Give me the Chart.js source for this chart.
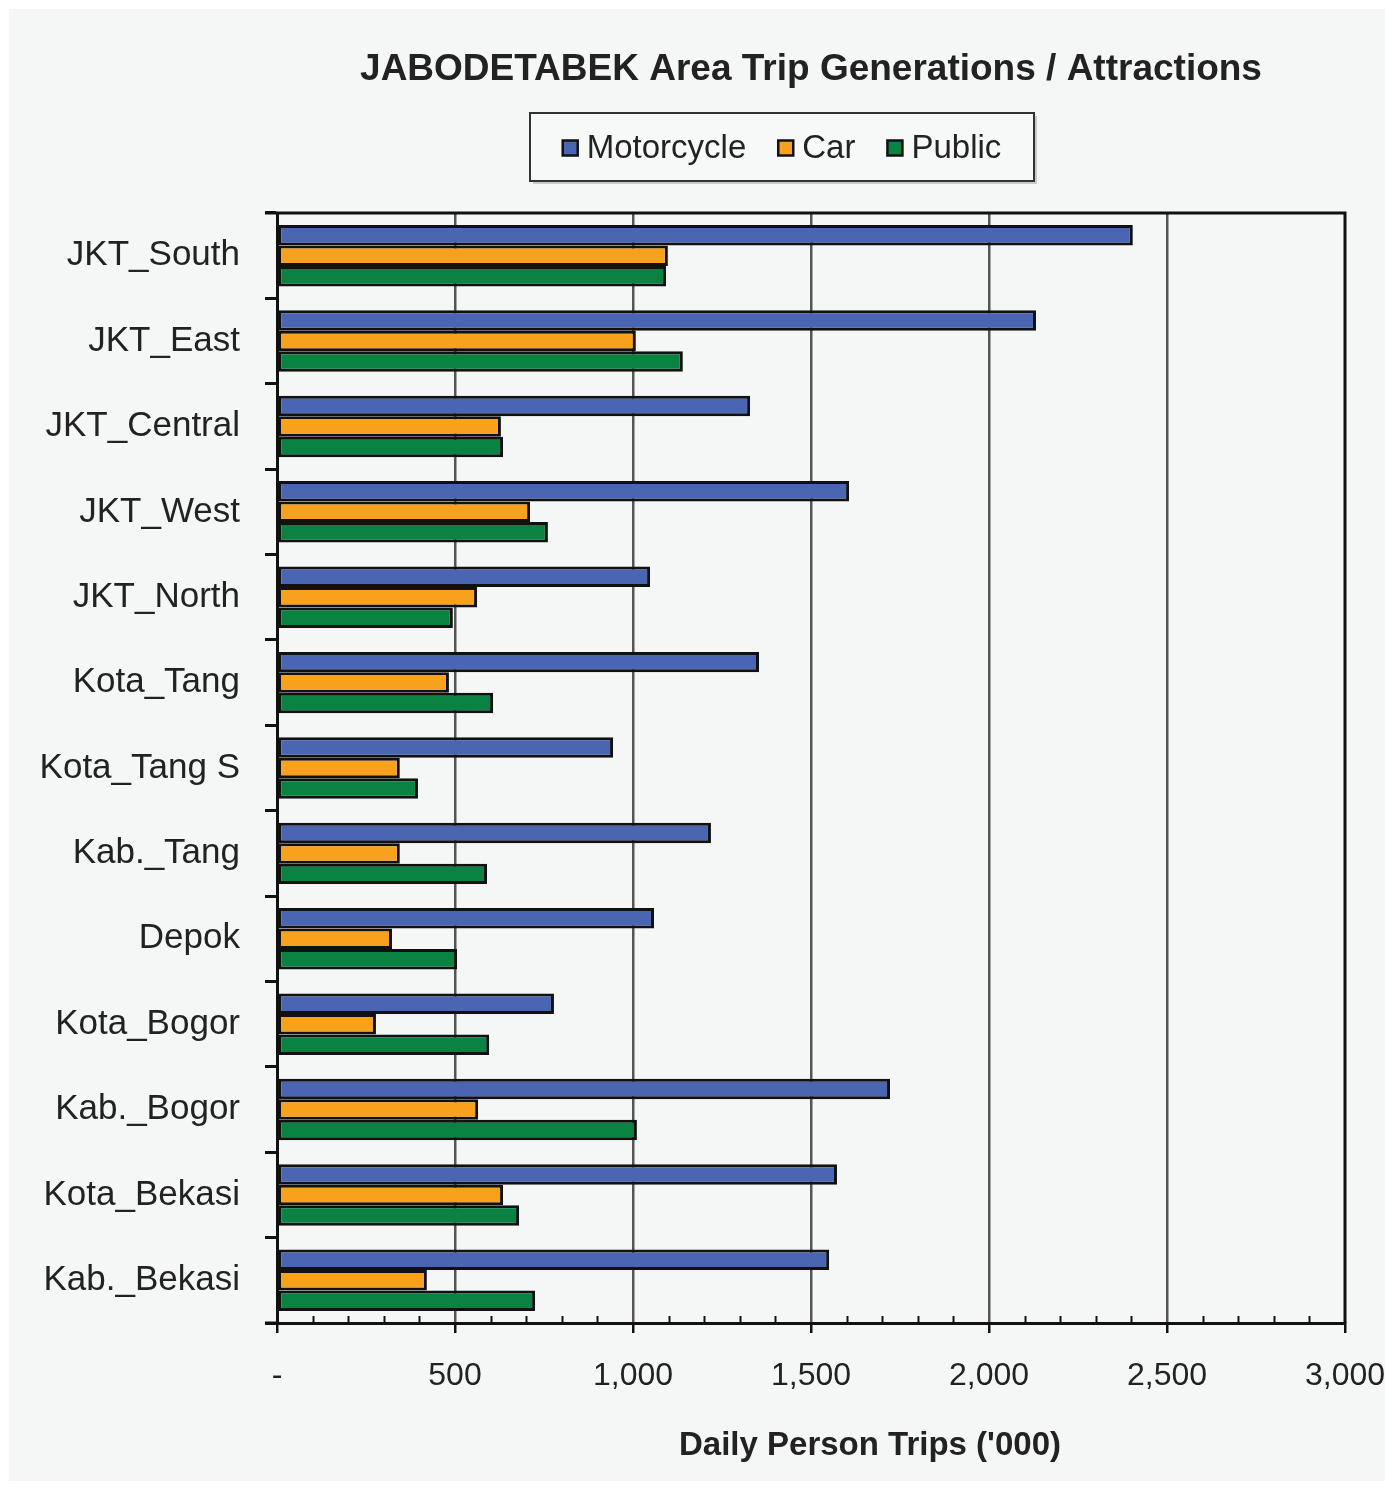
<!DOCTYPE html>
<html lang="en">
<head>
    <meta charset="UTF-8">
    <title>JABODETABEK Area Trip Generations / Attractions</title>
    <script src="https://cdn.jsdelivr.net/npm/chart.js"></script>
    <style>
        html, body { margin: 0; padding: 0; background: #ffffff; }
        #wrap { width: 1394px; height: 1490px; }
    </style>
</head>
<body>
<div id="wrap"><canvas id="tripChart" width="1394" height="1490"></canvas></div>

<script>
    // Areas, top to bottom
    const areas = ['JKT_South', 'JKT_East', 'JKT_Central', 'JKT_West', 'JKT_North', 'Kota_Tang',
        'Kota_Tang S', 'Kab._Tang', 'Depok', 'Kota_Bogor', 'Kab._Bogor', 'Kota_Bekasi', 'Kab._Bekasi'];

    // Daily person trips ('000)
    const motorcycle = [2404, 2132, 1329, 1607, 1048, 1354, 944, 1219, 1059, 778, 1722, 1573, 1551];
    const car = [1098, 1008, 629, 711, 562, 483, 345, 345, 323, 278, 565, 635, 421];
    const publicTrips = [1093, 1140, 635, 761, 494, 607, 396, 590, 506, 596, 1011, 680, 725];

    const seriesNames = ['Motorcycle', 'Car', 'Public'];
    const seriesColors = ['#4a66b2', '#f7a11c', '#0a8242'];

    const xMin = 0;
    const xMax = 3000;
    const xStep = 500;
    const xMinorStep = 100;

    const FONT = '"Liberation Sans", Arial, sans-serif';
    const TEXT = '#222222';

    // Titles, legend box, frame and minor ticks
    const decor = {
        id: 'decor',
        beforeDraw(chart) {
            const ctx = chart.ctx;
            ctx.save();
            ctx.fillStyle = '#ffffff';
            ctx.fillRect(0, 0, chart.width, chart.height);
            ctx.fillStyle = '#f5f7f7';
            ctx.fillRect(9, 9, chart.width - 18, chart.height - 18);
            ctx.restore();
        },
        afterDatasetsDraw(chart) {
            const { ctx, chartArea: a, scales: { x } } = chart;
            ctx.save();
            ctx.strokeStyle = '#111111';
            ctx.lineWidth = 3;
            ctx.beginPath();
            ctx.moveTo(a.left - 12, a.top);
            ctx.lineTo(a.right, a.top);
            ctx.lineTo(a.right, a.bottom);
            ctx.moveTo(a.left - 12, a.bottom);
            ctx.lineTo(a.left, a.bottom);
            ctx.stroke();

            // minor ticks pointing into the plot
            ctx.lineWidth = 2;
            ctx.beginPath();
            for (let v = xMin + xMinorStep; v < xMax; v += xMinorStep) {
                if (v % xStep === 0) continue;
                const px = Math.round(x.getPixelForValue(v)) + 0.5;
                ctx.moveTo(px, a.bottom);
                ctx.lineTo(px, a.bottom - 7);
            }
            ctx.stroke();
            ctx.restore();
        },
        afterDraw(chart) {
            const { ctx, chartArea: a } = chart;
            const mid = (a.left + a.right) / 2;
            ctx.save();
            ctx.fillStyle = TEXT;
            ctx.textBaseline = 'middle';
            ctx.textAlign = 'center';

            // chart title
            ctx.font = 'bold 37px ' + FONT;
            ctx.fillText('JABODETABEK Area Trip Generations / Attractions', mid, 70);

            // x axis title
            ctx.font = 'bold 33px ' + FONT;
            ctx.fillText("Daily Person Trips ('000)", mid + 59, 1446);

            // legend
            ctx.font = '33px ' + FONT;
            ctx.textAlign = 'left';
            const box = 15, gapText = 9, gapItem = 32;
            const widths = seriesNames.map(n => box + gapText + ctx.measureText(n).width);
            const total = widths.reduce((s, w) => s + w, 0) + gapItem * (widths.length - 1);
            const cx = mid - 29;
            let lx = cx - total / 2;
            const ly = 148;

            ctx.fillStyle = 'rgba(0,0,0,0.18)';
            ctx.fillRect(cx - 252 + 3, 113 + 3, 504, 68);
            ctx.fillStyle = '#f7f8f8';
            ctx.fillRect(cx - 252, 113, 504, 68);
            ctx.strokeStyle = '#333333';
            ctx.lineWidth = 2;
            ctx.strokeRect(cx - 252, 113, 504, 68);

            seriesNames.forEach((name, i) => {
                ctx.fillStyle = seriesColors[i];
                ctx.fillRect(lx, ly - box / 2, box, box);
                ctx.strokeStyle = '#111111';
                ctx.lineWidth = 2.5;
                ctx.strokeRect(lx, ly - box / 2, box, box);
                ctx.fillStyle = TEXT;
                ctx.fillText(name, lx + box + gapText, ly + 1);
                lx += widths[i] + gapItem;
            });
            ctx.restore();
        }
    };

    const seriesData = [motorcycle, car, publicTrips];

    new Chart(document.getElementById('tripChart').getContext('2d'), {
        type: 'bar',
        data: {
            labels: areas,
            datasets: seriesData.map((d, i) => ({
                label: seriesNames[i],
                data: d,
                backgroundColor: seriesColors[i],
                borderColor: '#111111',
                borderWidth: 3,
                borderSkipped: false,
                categoryPercentage: 0.72,
                barPercentage: 1.0
            }))
        },
        options: {
            indexAxis: 'y',
            responsive: false,
            animation: false,
            layout: { padding: { top: 213, left: 0, right: 49, bottom: 0 } },
            plugins: {
                legend: { display: false },
                title: { display: false },
                tooltip: { enabled: false }
            },
            scales: {
                x: {
                    min: xMin,
                    max: xMax,
                    afterFit(scale) {
                        scale.height = 167;
                        scale.paddingLeft = 0;
                        scale.paddingRight = 0;
                    },
                    afterBuildTicks(scale) {
                        const t = [];
                        for (let v = xMin; v <= xMax; v += xStep) t.push({ value: v });
                        scale.ticks = t;
                    },
                    ticks: {
                        stepSize: xStep,
                        color: TEXT,
                        font: { family: FONT, size: 32 },
                        padding: 24,
                        maxRotation: 0,
                        callback: v => v === 0 ? '-' : v.toLocaleString('en-US')
                    },
                    grid: {
                        color: c => (c.tick && (c.tick.value === xMin || c.tick.value === xMax)) ? 'rgba(0,0,0,0)' : '#555555',
                        lineWidth: 2.5,
                        tickColor: '#111111',
                        tickLength: 10
                    },
                    border: { color: '#111111', width: 3 }
                },
                y: {
                    afterFit(scale) { scale.width = 277; },
                    ticks: {
                        color: TEXT,
                        font: { family: FONT, size: 35 },
                        padding: 25
                    },
                    grid: {
                        offset: true,
                        drawOnChartArea: false,
                        tickColor: '#111111',
                        tickLength: 12,
                        lineWidth: 3
                    },
                    border: { color: '#111111', width: 3 }
                }
            }
        },
        plugins: [decor]
    });
</script>
</body>
</html>
